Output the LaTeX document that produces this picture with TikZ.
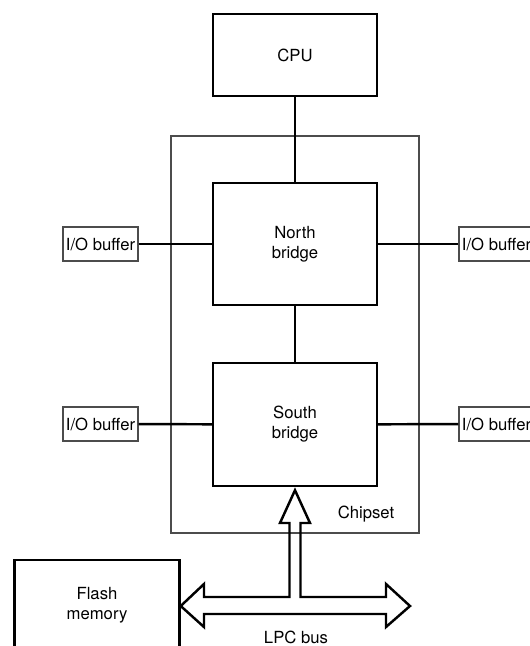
\documentclass[tikz,border=0pt]{standalone}
\usepackage{fontspec}
\setmainfont{TeX Gyre Heros}
\usetikzlibrary{shapes,arrows}

\begin{document}
\begin{tikzpicture}[thick, font=\fontsize{9.5}{11.3}\selectfont,
  chip/.style={draw, line width=1.4pt, minimum width=3.28cm, align=center, inner sep=0pt},
  iobuf/.style={draw=black!70, line width=0.6pt, minimum width=1.5cm, minimum height=0.68cm, inner sep=0pt},
  wire/.style={line width=1.4pt}]

\useasboundingbox (0,0) rectangle (10.58,-12.92);

% Chipset box
\draw [color=black!70, line width=0.6pt] (3.42,-2.72) rectangle (8.38,-10.66);
\node (chipset) at (7.32,-10.28) {Chipset};

\node[chip, minimum height=1.64cm] (cpu) at (5.9,-1.1) {CPU};
\node[chip, minimum height=2.44cm] (nb) at (5.9,-4.88) {North\\bridge};
\node[chip, minimum height=2.46cm] (sb) at (5.9,-8.49) {South\\bridge};

\node[iobuf] (ionl) at (2.01,-4.88) {I/O buffer};
\node[iobuf] (ionr) at (9.93,-4.88) {I/O buffer};
\node[iobuf] (iosl) at (2.01,-8.48) {I/O buffer};
\node[iobuf] (iosr) at (9.93,-8.48) {I/O buffer};

\node[chip, minimum width=3.3cm, minimum height=1.8cm] (flash) at (1.94,-12.1) {Flash\\memory};

% wires
\draw[wire] (cpu) -- (nb);
\draw[wire] (nb) -- (sb);
\draw[wire] (ionl) -- (nb);
\draw[wire] (nb) -- (ionr);
\draw[wire] (iosl) -- (sb);
\draw[wire] (sb) -- (iosr);

% LPC bus
\draw[line width=1.4pt, line join=miter] (flash.east |- 0,-12.12) -- (4.08,-11.68) -- (4.08,-11.94)
  -- (5.79,-11.94) -- (5.79,-10.46) -- (5.6,-10.46) -- ([yshift=-0.06cm]sb.south)
  -- (6.2,-10.46) -- (6.01,-10.46) -- (6.01,-11.94) -- (7.72,-11.94) -- (7.72,-11.68)
  -- (8.2,-12.12) -- (7.72,-12.54) -- (7.72,-12.28) -- (4.08,-12.28) -- (4.08,-12.54) -- cycle;
\node (lpc) at (5.92,-12.74) {LPC bus};

\end{tikzpicture}
\end{document}
